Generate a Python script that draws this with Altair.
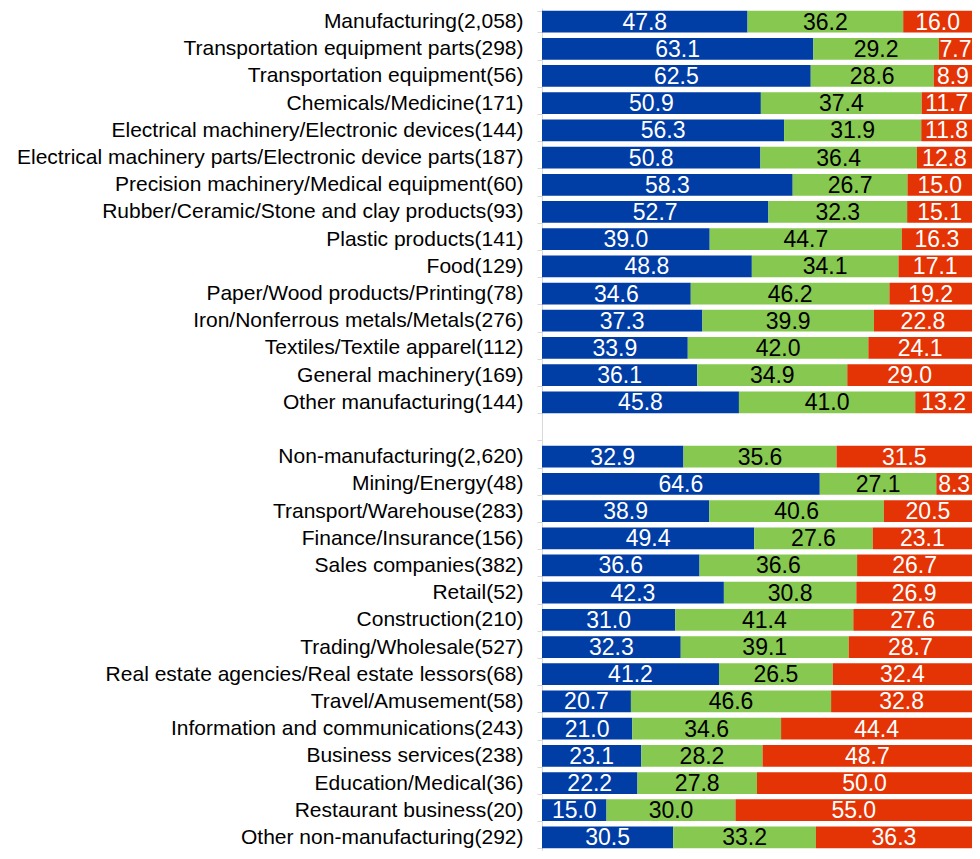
import altair as alt
import pandas as pd

categories = [
    "Manufacturing(2,058)",
    "Transportation equipment parts(298)",
    "Transportation equipment(56)",
    "Chemicals/Medicine(171)",
    "Electrical machinery/Electronic devices(144)",
    "Electrical machinery parts/Electronic device parts(187)",
    "Precision machinery/Medical equipment(60)",
    "Rubber/Ceramic/Stone and clay products(93)",
    "Plastic products(141)",
    "Food(129)",
    "Paper/Wood products/Printing(78)",
    "Iron/Nonferrous metals/Metals(276)",
    "Textiles/Textile apparel(112)",
    "General machinery(169)",
    "Other manufacturing(144)",
    " ",
    "Non-manufacturing(2,620)",
    "Mining/Energy(48)",
    "Transport/Warehouse(283)",
    "Finance/Insurance(156)",
    "Sales companies(382)",
    "Retail(52)",
    "Construction(210)",
    "Trading/Wholesale(527)",
    "Real estate agencies/Real estate lessors(68)",
    "Travel/Amusement(58)",
    "Information and communications(243)",
    "Business services(238)",
    "Education/Medical(36)",
    "Restaurant business(20)",
    "Other non-manufacturing(292)",
]

series_names = ["Increase", "Unchanged", "Decrease"]

increase = [47.8, 63.1, 62.5, 50.9, 56.3, 50.8, 58.3, 52.7, 39.0, 48.8, 34.6, 37.3, 33.9, 36.1, 45.8,
            None,
            32.9, 64.6, 38.9, 49.4, 36.6, 42.3, 31.0, 32.3, 41.2, 20.7, 21.0, 23.1, 22.2, 15.0, 30.5]
unchanged = [36.2, 29.2, 28.6, 37.4, 31.9, 36.4, 26.7, 32.3, 44.7, 34.1, 46.2, 39.9, 42.0, 34.9, 41.0,
             None,
             35.6, 27.1, 40.6, 27.6, 36.6, 30.8, 41.4, 39.1, 26.5, 46.6, 34.6, 28.2, 27.8, 30.0, 33.2]
decrease = [16.0, 7.7, 8.9, 11.7, 11.8, 12.8, 15.0, 15.1, 16.3, 17.1, 19.2, 22.8, 24.1, 29.0, 13.2,
            None,
            31.5, 8.3, 20.5, 23.1, 26.7, 26.9, 27.6, 28.7, 32.4, 32.8, 44.4, 48.7, 50.0, 55.0, 36.3]

colors = ["#003DA5", "#86C850", "#E43405"]

rows = []
for i, cat in enumerate(categories):
    for k, vals in enumerate([increase, unchanged, decrease]):
        v = vals[i]
        if v is None:
            continue
        rows.append({"label": cat, "series": series_names[k], "order": k, "value": v})
df = pd.DataFrame(rows)

FONT = "Liberation Sans"

base = alt.Chart(df).transform_stack(
    stack="value",
    as_=["x0", "x1"],
    groupby=["label"],
    sort=[alt.SortField("order", order="ascending")],
    offset="normalize",
).transform_calculate(mid="(datum.x0 + datum.x1) / 2")

y_scale = alt.Scale(domain=categories, paddingInner=0.2, paddingOuter=0.1)

y_enc = alt.Y(
    "label:N",
    scale=y_scale,
    axis=alt.Axis(
        title=None,
        labelFont=FONT,
        labelFontSize=21,
        labelColor="#000000",
        labelLimit=600,
        labelPadding=14,
        domainColor="#d9d9d9",
        tickColor="#d9d9d9",
        tickSize=5,
        tickBand="extent",
        grid=False,
    ),
)

x_scale = alt.Scale(domain=[0, 1], nice=False, zero=True)

bars = base.mark_bar().encode(
    y=y_enc,
    x=alt.X("x0:Q", scale=x_scale, axis=None),
    x2="x1:Q",
    color=alt.Color("series:N", scale=alt.Scale(domain=series_names, range=colors), legend=None),
)

labels = base.mark_text(font=FONT, fontSize=23, align="center", baseline="middle", dy=1).encode(
    y=alt.Y("label:N", scale=y_scale),
    x=alt.X("mid:Q", scale=x_scale),
    text=alt.Text("value:Q", format=".1f"),
    color=alt.condition(alt.datum.series == "Unchanged", alt.value("#000000"), alt.value("#ffffff")),
)

chart = alt.layer(bars, labels).properties(
    width=430,
    height=843,
    autosize=alt.AutoSizeParams(type="none"),
    padding={"left": 534, "top": 0, "right": 0, "bottom": 0},
).configure_view(stroke=None).configure_axis(grid=False)

chart.save("out.html", embed_options={"renderer": "svg", "actions": False})
